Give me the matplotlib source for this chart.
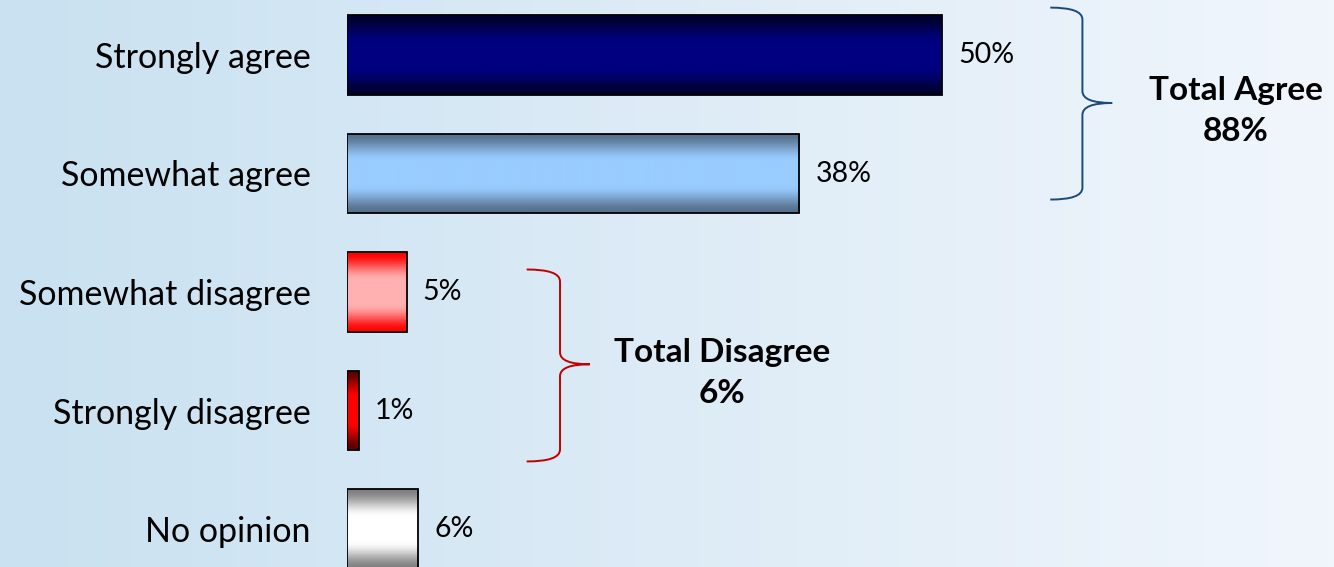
import numpy as np
import matplotlib
matplotlib.use("Agg")
import matplotlib.pyplot as plt
from matplotlib.path import Path
from matplotlib.patches import PathPatch
from matplotlib.colors import to_rgb

plt.rcParams['font.family'] = ['Lato', 'DejaVu Sans']

# data
categories = ['Strongly agree', 'Somewhat agree', 'Somewhat disagree',
              'Strongly disagree', 'No opinion']
values = [50, 38, 5, 1, 6]
labels = ['50%', '38%', '5%', '1%', '6%']
# (edge colour, centre colour) for the bar gradients
edge_cols = ['#00002e', '#56708c', '#ff0000', '#5a0000', '#7f7f7f']
mid_cols = ['#000080', '#99ccff', '#ffb0b0', '#ff0000', '#ffffff']

agree_total = 'Total Agree\n88%'
disagree_total = 'Total Disagree\n6%'

fig = plt.figure(figsize=(13.34, 5.67), dpi=100)

# background gradient (left to right)
bg = fig.add_axes([0, 0, 1, 1], zorder=0)
c0 = np.array(to_rgb('#c9e1f1'))
c1 = np.array(to_rgb('#f1f6fc'))
t = np.linspace(0, 1, 256)[None, :, None]
bg.imshow(c0 + (c1 - c0) * t, aspect='auto', extent=[0, 1, 0, 1])
bg.axis('off')

# main axes: left edge of bars at x=347px, 11.9 px per percent
W, H = 1334, 567
ax = fig.add_axes([347 / W, 0, 1 - 347 / W, 1], zorder=1)
ax.patch.set_alpha(0)
xmax = (W - 347) / 11.9
step = 118.5
ytop = -55 / step
ybot = (H - 55) / step

bar_h = 0.675
ypos = np.arange(len(categories))


def profile(n=200):
    s = np.linspace(0, 1, n)
    d = np.abs(2 * s - 1)
    m = np.clip((d - 0.3) / 0.7, 0, 1)
    return m * m * (3 - 2 * m)


prof = profile()[:, None, None]
for i, (v, ec, mc) in enumerate(zip(values, edge_cols, mid_cols)):
    e = np.array(to_rgb(ec))
    c = np.array(to_rgb(mc))
    grad = c + (e - c) * prof
    bars = ax.barh(i, v, height=bar_h, color='none', edgecolor='black',
                   linewidth=1.3, zorder=3)
    im = ax.imshow(grad, extent=(0, v, i + bar_h / 2, i - bar_h / 2),
                   aspect='auto', zorder=2, origin='upper')
    im.set_clip_path(bars.patches[0])
    ax.text(v + 1.35, i, labels[i], va='center', ha='left', fontsize=20.5,
            color='black')


def brace(x0, xv, xtip, y0, y1, ymid, color, r=0.1):
    verts = [(x0, y0), (xv, y0), (xv, y0 + r),
             (xv, ymid - r), (xv, ymid), (xtip, ymid),
             (xv, ymid), (xv, ymid + r),
             (xv, y1 - r), (xv, y1), (x0, y1)]
    codes = [Path.MOVETO, Path.CURVE3, Path.CURVE3,
             Path.LINETO, Path.CURVE3, Path.CURVE3,
             Path.CURVE3, Path.CURVE3,
             Path.LINETO, Path.CURVE3, Path.CURVE3]
    ax.add_patch(PathPatch(Path(verts, codes), facecolor='none',
                           edgecolor=color, linewidth=1.4, zorder=4,
                           clip_on=False))


brace(59.1, 61.8, 64.3, -0.40, 1.22, 0.405, '#1a4a7a')
brace(15.1, 17.9, 20.4, 1.81, 3.43, 2.61, '#c00000')

ax.text(74.7, 0.47, agree_total, ha='center', va='center', fontsize=24,
        fontweight='bold', linespacing=1.5)
ax.text(31.5, 2.68, disagree_total, ha='center', va='center', fontsize=24,
        fontweight='bold', linespacing=1.5)

ax.set_xlim(0, xmax)
ax.set_ylim(ybot, ytop)
ax.set_yticks(ypos)
ax.set_yticklabels(categories, fontsize=24.5)
ax.tick_params(axis='y', length=0, pad=26)
ax.set_xticks([])
for s in ax.spines.values():
    s.set_visible(False)

fig.savefig('out.png', dpi=100)
